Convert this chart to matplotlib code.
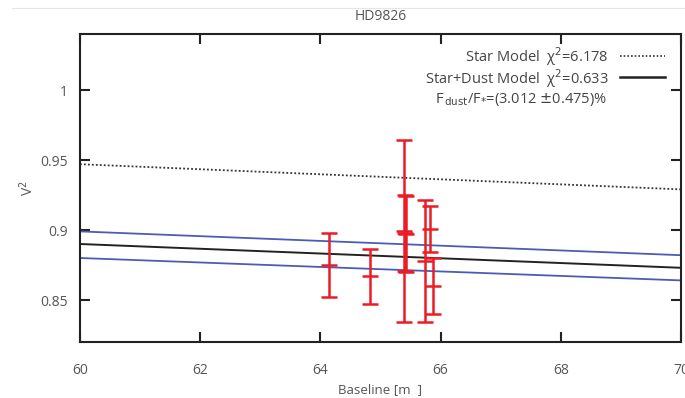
import matplotlib
matplotlib.use("Agg")
import matplotlib.pyplot as plt

plt.rcParams['font.family'] = ['Open Sans', 'DejaVu Sans']

# model curves (baseline in m, V^2)
model_x = [60, 70]
star_v2 = [0.947, 0.929]
dust_v2 = [0.890, 0.873]
dust_hi = [0.899, 0.882]
dust_lo = [0.880, 0.864]

# measurements
base = [64.15, 64.83, 65.39, 65.41, 65.42, 65.74, 65.82, 65.88]
v2 = [0.875, 0.867, 0.899, 0.898, 0.897, 0.878, 0.901, 0.860]
v2_err = [0.0227, 0.0196, 0.065, 0.027, 0.027, 0.0435, 0.0165, 0.020]

xticks = [60, 62, 64, 66, 68, 70]
yticks = [0.85, 0.9, 0.95, 1.0]
ytick_labels = ['0.85', '0.9', '0.95', '1']

RED = '#ec1c24'
BLUE = '#4a5cb8'
GREY = '#555555'

fig = plt.figure(figsize=(6.85, 3.98), dpi=100)
ax = fig.add_axes([80 / 685, 1 - 342 / 398, 601 / 685, 308 / 398])

ax.plot(model_x, star_v2, color='#333333', linestyle=(0, (1, 1.2)), linewidth=1.3)
ax.plot(model_x, dust_v2, color='#222222', linewidth=1.4)
ax.plot(model_x, dust_hi, color=BLUE, linewidth=1.3)
ax.plot(model_x, dust_lo, color=BLUE, linewidth=1.3)

ax.errorbar(base, v2, yerr=v2_err, fmt='_', color=RED, ecolor=RED,
            markersize=11, markeredgewidth=1.8, elinewidth=1.8,
            capsize=5.5, capthick=1.8, zorder=5)

ax.set_xlim(60, 70)
ax.set_ylim(0.82, 1.04)
ax.set_xticks(xticks)
ax.set_yticks(yticks)
ax.set_yticklabels(ytick_labels)
ax.tick_params(direction='in', length=7, width=1.5, labelsize=10,
               labelcolor=GREY, color='#222222', top=True, right=True)
ax.tick_params(axis='x', pad=15)
ax.tick_params(axis='y', pad=9)
for s in ax.spines.values():
    s.set_linewidth(1.5)
    s.set_color('#222222')

ax.set_xlabel('Baseline [m  ]', fontsize=9.5, color=GREY, labelpad=4)
ax.set_ylabel('V$^2$', fontsize=10, color=GREY, labelpad=2)
ax.set_title('HD9826', fontsize=10, color=GREY, pad=10)

# legend drawn by hand: text right aligned, line sample to its right
tr = ax.transAxes
ax.text(0.879, 0.927, 'Star Model  χ$^2$=6.178', transform=tr,
        ha='right', va='center', fontsize=10.5, color='#444444')
ax.plot([0.899, 0.973], [0.93, 0.93], transform=tr, color='#333333',
        linestyle=(0, (1, 1.2)), linewidth=1.2)
ax.text(0.879, 0.856, 'Star+Dust Model  χ$^2$=0.633', transform=tr,
        ha='right', va='center', fontsize=10.5, color='#444444')
ax.plot([0.899, 0.973], [0.859, 0.859], transform=tr, color='#222222',
        linewidth=1.8)
ax.text(0.876, 0.788, r'F$_{\,\mathrm{dust}}$/F$_{*}$=(3.012 $\pm$0.475)%',
        transform=tr, ha='right', va='center', fontsize=10.5, color='#444444')

fig.add_artist(plt.Line2D([12 / 685, 1], [1 - 8 / 398, 1 - 8 / 398],
                          color='#e6e6e6', linewidth=0.8))

fig.savefig('out.png', dpi=100)
